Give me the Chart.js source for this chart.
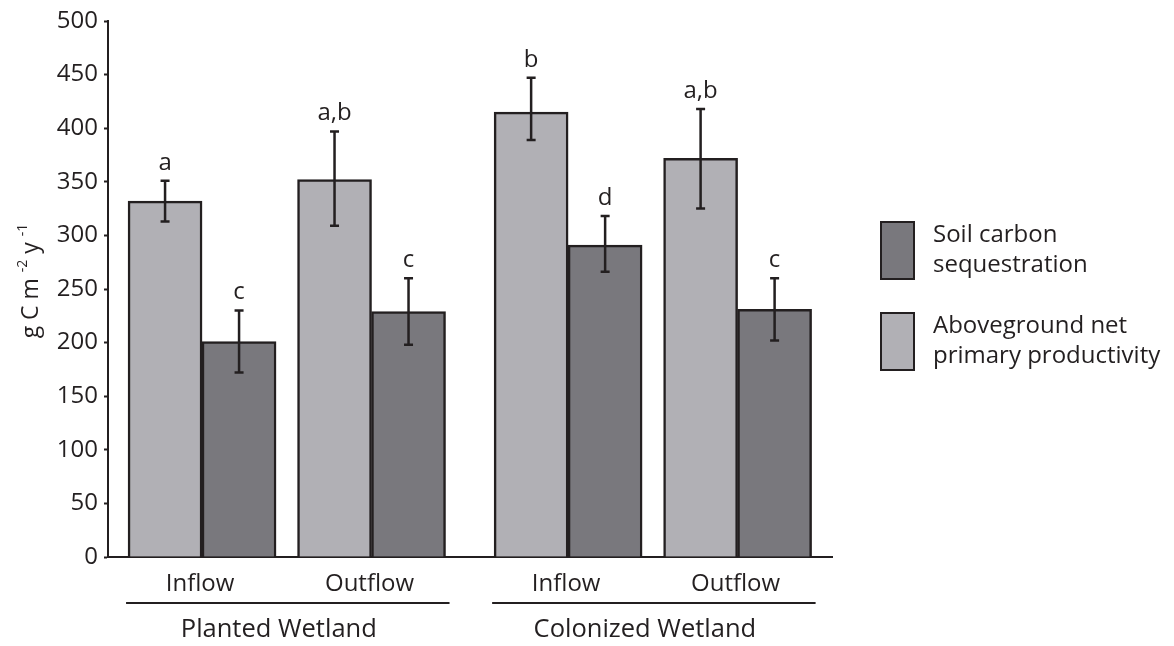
<!DOCTYPE html>
<html>
<head>
<meta charset="utf-8">
<script src="https://cdn.jsdelivr.net/npm/chart.js@4/dist/chart.umd.min.js"></script>
<style>
  html, body { margin: 0; padding: 0; background: #fff; }
  #wrap { width: 1174px; height: 646px; position: relative; }
</style>
</head>
<body>
<div id="wrap"><canvas id="chart"></canvas></div>
<script>
// ---- DATOS ----
var SITES      = ["Inflow", "Outflow", "Inflow", "Outflow"];
var GROUPS     = ["Planted Wetland", "Colonized Wetland"];
var SITE_GROUP = [0, 0, 1, 1];

var ANPP       = [332, 352, 415, 372];
var ANPP_LOW   = [313, 309, 389, 325];
var ANPP_HIGH  = [351, 397, 447, 418];
var ANPP_LET   = ["a", "a,b", "b", "a,b"];

var SOIL       = [201, 229, 291, 231];
var SOIL_LOW   = [172, 198, 266, 202];
var SOIL_HIGH  = [230, 260, 318, 260];
var SOIL_LET   = ["c", "c", "d", "c"];

var Y_TICKS    = [0, 50, 100, 150, 200, 250, 300, 350, 400, 450, 500];

// ---- ESTILO ----
var FONT   = "'Open Sans', 'DejaVu Sans', sans-serif";
var INK    = "#231f20";
var LIGHT  = "#b1b0b5";
var DARK   = "#79787d";
var GROUP_GAP = 0.16;

function sitePos(i) { return i + GROUP_GAP * SITE_GROUP[i]; }

function points(vals) {
  return vals.map(function(v, i) { return { x: sitePos(i), y: v }; });
}

// ---- PLUGIN: barras de error, letras, ejes, leyenda ----
var extras = {
  id: "extras",
  afterDatasetsDraw: function(chart) {
    var ctx = chart.ctx, y = chart.scales.y;
    var sets = [
      { low: ANPP_LOW, high: ANPP_HIGH, let: ANPP_LET },
      { low: SOIL_LOW, high: SOIL_HIGH, let: SOIL_LET }
    ];
    ctx.save();
    sets.forEach(function(s, di) {
      var meta = chart.getDatasetMeta(di);
      meta.data.forEach(function(bar, i) {
        var x = bar.x;
        var yl = y.getPixelForValue(s.low[i]);
        var yh = y.getPixelForValue(s.high[i]);
        ctx.strokeStyle = INK;
        ctx.lineWidth = 2.5;
        ctx.beginPath();
        ctx.moveTo(x, yl); ctx.lineTo(x, yh);
        ctx.moveTo(x - 4.5, yl); ctx.lineTo(x + 4.5, yl);
        ctx.moveTo(x - 4.5, yh); ctx.lineTo(x + 4.5, yh);
        ctx.stroke();

        ctx.fillStyle = INK;
        ctx.font = "24px " + FONT;
        ctx.textAlign = "center";
        ctx.textBaseline = "alphabetic";
        ctx.fillText(s.let[i], x, yh - 11);
      });
    });
    ctx.restore();
  },
  afterDraw: function(chart) {
    var ctx = chart.ctx, x = chart.scales.x;
    ctx.save();
    ctx.fillStyle = INK;
    ctx.textAlign = "center";
    ctx.textBaseline = "middle";
    ctx.font = "24px " + FONT;

    // etiquetas de sitio
    SITES.forEach(function(s, i) {
      ctx.fillText(s, x.getPixelForValue(sitePos(i)) - 2, 584);
    });

    // líneas y nombres de grupo
    var half = 74;
    GROUPS.forEach(function(g, gi) {
      var idx = [];
      SITE_GROUP.forEach(function(sg, i) { if (sg === gi) idx.push(i); });
      var x0 = x.getPixelForValue(sitePos(idx[0]));
      var x1 = x.getPixelForValue(sitePos(idx[idx.length - 1]));
      ctx.strokeStyle = INK;
      ctx.lineWidth = 2;
      ctx.beginPath();
      ctx.moveTo(x0 - half - 2, 603);
      ctx.lineTo(x1 + half + 4, 603);
      ctx.stroke();
      ctx.font = "25.5px " + FONT;
      ctx.fillText(g, (x0 + x1) / 2 - 8, 630);
    });

    // título eje y con superíndices
    var pieces = [
      { t: "g C m ", size: 23, up: 0 },
      { t: "-2", size: 14, up: 11 },
      { t: " y ", size: 23, up: 0 },
      { t: "-1", size: 14, up: 11 }
    ];
    var total = 0;
    pieces.forEach(function(p) {
      ctx.font = p.size + "px " + FONT;
      p.w = ctx.measureText(p.t).width;
      total += p.w;
    });
    ctx.translate(38, 281);
    ctx.rotate(-Math.PI / 2);
    ctx.textAlign = "left";
    ctx.textBaseline = "alphabetic";
    var cx = -total / 2;
    pieces.forEach(function(p) {
      ctx.font = p.size + "px " + FONT;
      ctx.fillText(p.t, cx, -p.up);
      cx += p.w;
    });
    ctx.setTransform(1, 0, 0, 1, 0, 0);

    // leyenda
    var items = [
      { color: DARK,  lines: ["Soil carbon", "sequestration"], top: 222 },
      { color: LIGHT, lines: ["Aboveground net", "primary productivity"], top: 313 }
    ];
    items.forEach(function(it) {
      ctx.fillStyle = it.color;
      ctx.fillRect(881, it.top, 33, 57);
      ctx.strokeStyle = INK;
      ctx.lineWidth = 2;
      ctx.strokeRect(881, it.top, 33, 57);
      ctx.fillStyle = INK;
      ctx.font = "24px " + FONT;
      ctx.textAlign = "left";
      ctx.textBaseline = "middle";
      ctx.fillText(it.lines[0], 933, it.top + 13);
      ctx.fillText(it.lines[1], 933, it.top + 43);
    });
    ctx.restore();
  }
};

// ---- GRÁFICO ----
new Chart(document.getElementById("chart"), {
  type: "bar",
  data: {
    datasets: [
      {
        label: "Aboveground net primary productivity",
        data: points(ANPP),
        backgroundColor: LIGHT,
        borderColor: INK,
        borderWidth: 2.5
      },
      {
        label: "Soil carbon sequestration",
        data: points(SOIL),
        backgroundColor: DARK,
        borderColor: INK,
        borderWidth: 2.5
      }
    ]
  },
  options: {
    responsive: true,
    maintainAspectRatio: false,
    animation: false,
    barThickness: 74,
    layout: { padding: { left: 0, top: 21, right: 342, bottom: 89 } },
    plugins: {
      legend: { display: false },
      tooltip: { enabled: false }
    },
    scales: {
      x: {
        type: "linear",
        min: -0.555,
        max: 3.717,
        offset: false,
        ticks: { display: false },
        grid: { drawOnChartArea: false, drawTicks: false, offset: false },
        border: { color: INK, width: 2 },
        afterFit: function(a) { a.height = 0; }
      },
      y: {
        min: 0,
        max: 500,
        afterBuildTicks: function(a) { a.ticks = Y_TICKS.map(function(v) { return { value: v }; }); },
        ticks: { color: INK, font: { size: 24, family: FONT }, padding: 6 },
        grid: { drawOnChartArea: false, tickLength: 4, color: INK, tickWidth: 2 },
        border: { color: INK, width: 2 },
        afterFit: function(a) { a.width = 108; }
      }
    }
  },
  plugins: [extras]
});
</script>
</body>
</html>
